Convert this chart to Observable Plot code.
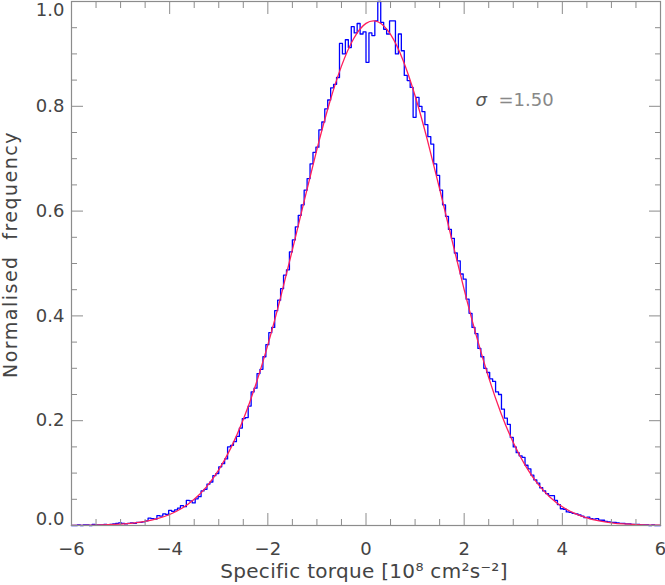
<!DOCTYPE html>
<html><head><meta charset="utf-8">
<script src="https://cdn.jsdelivr.net/npm/d3@7"></script>
<script src="https://cdn.jsdelivr.net/npm/@observablehq/plot@0.6"></script>
<style>
body{margin:0;background:#fff} svg{display:block}
.ytitle text{letter-spacing:1.5px;word-spacing:8px}
.xtitle text{letter-spacing:0.3px}
</style>
</head><body><div id="chart"></div>
<script>
// Histogram: 200 bins of width 0.06 starting at -6 (normalised frequency)
const binStart = -6;
const binWidth = 0.06;
const counts = [
  0, 0, 0.001, 0, 0.001, 0.001, 0, 0.002, 0.001, 0.001,
  0.001, 0.002, 0.001, 0.002, 0.003, 0.004, 0.005, 0.004, 0.003, 0.004,
  0.005, 0.004, 0.006, 0.006, 0.007, 0.009, 0.014, 0.013, 0.012, 0.019,
  0.018, 0.022, 0.021, 0.029, 0.027, 0.030, 0.033, 0.038, 0.036, 0.048,
  0.047, 0.043, 0.051, 0.055, 0.066, 0.069, 0.079, 0.083, 0.095, 0.099,
  0.112, 0.118, 0.127, 0.150, 0.153, 0.160, 0.170, 0.186, 0.204, 0.206,
  0.228, 0.255, 0.262, 0.290, 0.298, 0.322, 0.345, 0.368, 0.378, 0.410,
  0.430, 0.452, 0.478, 0.488, 0.522, 0.545, 0.570, 0.592, 0.612, 0.640,
  0.662, 0.690, 0.712, 0.722, 0.755, 0.770, 0.795, 0.812, 0.835, 0.842,
  0.855, 0.920, 0.900, 0.927, 0.912, 0.952, 0.940, 0.958, 0.938, 0.942,
  0.884, 0.940, 0.935, 0.963, 1.000, 0.960, 0.947, 0.938, 0.963, 0.963,
  0.900, 0.938, 0.906, 0.859, 0.849, 0.836, 0.779, 0.817, 0.800, 0.790,
  0.765, 0.742, 0.728, 0.690, 0.668, 0.640, 0.612, 0.590, 0.565, 0.548,
  0.520, 0.505, 0.480, 0.470, 0.432, 0.405, 0.378, 0.366, 0.338, 0.322,
  0.300, 0.292, 0.280, 0.275, 0.255, 0.250, 0.222, 0.205, 0.193, 0.168,
  0.150, 0.139, 0.133, 0.130, 0.115, 0.108, 0.096, 0.087, 0.081, 0.072,
  0.066, 0.061, 0.057, 0.057, 0.048, 0.040, 0.032, 0.031, 0.026, 0.025,
  0.023, 0.022, 0.020, 0.018, 0.015, 0.016, 0.013, 0.012, 0.013, 0.010,
  0.010, 0.008, 0.007, 0.006, 0.006, 0.005, 0.004, 0.004, 0.003, 0.003,
  0.002, 0.002, 0.002, 0.001, 0.001, 0.001, 0.000, 0.001, 0.000, 0.000
];

// Fitted Gaussian (sigma = 1.50)
const fitX = [-6, -5.75, -5.5, -5.25, -5, -4.75, -4.5, -4.25, -4, -3.75, -3.5, -3.25, -3,
  -2.75, -2.5, -2.25, -2, -1.75, -1.5, -1.25, -1, -0.75, -0.5, -0.25, 0,
  0.25, 0.5, 0.75, 1, 1.25, 1.5, 1.75, 2, 2.25, 2.5, 2.75, 3,
  3.25, 3.5, 3.75, 4, 4.25, 4.5, 4.75, 5, 5.25, 5.5, 5.75, 6];
const fitY = [0.0002, 0.0004, 0.0008, 0.0015, 0.0027, 0.0046, 0.0079, 0.0130, 0.0210, 0.0328, 0.0499, 0.0738, 0.1062,
  0.1486, 0.2022, 0.2677, 0.3447, 0.4317, 0.5259, 0.6230, 0.7178, 0.8044, 0.8767, 0.9294, 0.9582,
  0.9609, 0.9371, 0.8889, 0.8202, 0.7359, 0.6423, 0.5452, 0.4501, 0.3614, 0.2823, 0.2144, 0.1584,
  0.1138, 0.0795, 0.0540, 0.0357, 0.0230, 0.0144, 0.0087, 0.0052, 0.0030, 0.0017, 0.0009, 0.0005];

const xMajor = [-6, -4, -2, 0, 2, 4, 6];
const xMinor = [-5.5, -5, -4.5, -3.5, -3, -2.5, -1.5, -1, -0.5, 0.5, 1, 1.5, 2.5, 3, 3.5, 4.5, 5, 5.5];
const yMajor = [0, 0.2, 0.4, 0.6, 0.8, 1.0];
const yMinor = [0.05, 0.1, 0.15, 0.25, 0.3, 0.35, 0.45, 0.5, 0.55, 0.65, 0.7, 0.75, 0.85, 0.9, 0.95];
const yLabelsMid = [0.2, 0.4, 0.6, 0.8];
const yLabelTop = [1.0];
const yLabelBottom = [0];

const xTitle = "Specific torque [10\u2078 cm\u00B2s\u207B\u00B2]";
const yTitle = "Normalised frequency";
const sigmaSymbol = "\u03C3";
const sigmaText = "=1.50";
const sigmaPos = {x: 2.23, y: 0.811};
const sigmaTextPos = {x: 2.70, y: 0.811};

const steps = counts.map((v, i) => ({x: binStart + i * binWidth, y: v}));
steps.push({x: binStart + counts.length * binWidth, y: counts[counts.length - 1]});
const fit = fitX.map((x, i) => ({x, y: fitY[i]}));

const axisColor = "#8c8c8c";
const labelColor = "#444";
const font = "'DejaVu Sans', sans-serif";
const fmt = d3.format(".1f");
const blank = () => "";

const chart = Plot.plot({
  width: 665,
  height: 585,
  marginLeft: 71,
  marginRight: 5,
  marginTop: 1,
  marginBottom: 60,
  x: {domain: [-6, 6]},
  y: {domain: [0, 1]},
  style: {fontFamily: font, fontSize: "18px", background: "#fff", color: labelColor},
  marks: [
    Plot.line(steps, {x: "x", y: "y", curve: "step-after", stroke: "#0000ff", strokeWidth: 1.3}),
    Plot.line(fit, {x: "x", y: "y", curve: "natural", stroke: "#ff1f5a", strokeWidth: 1.3}),
    Plot.frame({stroke: axisColor, strokeWidth: 1.2}),
    // bottom & top ticks (inward)
    Plot.axisX(xMajor, {anchor: "bottom", tickSize: -12, tickFormat: blank, stroke: axisColor, label: null}),
    Plot.axisX(xMinor, {anchor: "bottom", tickSize: -6, tickFormat: blank, stroke: axisColor, label: null}),
    Plot.axisX(xMajor, {anchor: "top", tickSize: -12, tickFormat: blank, stroke: axisColor, label: null}),
    Plot.axisX(xMinor, {anchor: "top", tickSize: -6, tickFormat: blank, stroke: axisColor, label: null}),
    Plot.axisX(xMajor, {anchor: "bottom", tickSize: 0, tickPadding: 17, fill: labelColor, fontSize: 18, label: null}),
    // left & right ticks (inward)
    Plot.axisY(yMajor, {anchor: "left", tickSize: -12, tickFormat: blank, stroke: axisColor, label: null}),
    Plot.axisY(yMinor, {anchor: "left", tickSize: -6, tickFormat: blank, stroke: axisColor, label: null}),
    Plot.axisY(yMajor, {anchor: "right", tickSize: -12, tickFormat: blank, stroke: axisColor, label: null}),
    Plot.axisY(yMinor, {anchor: "right", tickSize: -6, tickFormat: blank, stroke: axisColor, label: null}),
    Plot.axisY(yLabelsMid, {anchor: "left", tickSize: 0, tickPadding: 7, tickFormat: fmt, fill: labelColor, fontSize: 18, label: null}),
    Plot.axisY(yLabelTop, {anchor: "left", tickSize: 0, tickPadding: 7, dy: 9, tickFormat: fmt, fill: labelColor, fontSize: 18, label: null}),
    Plot.axisY(yLabelBottom, {anchor: "left", tickSize: 0, tickPadding: 7, dy: -6, tickFormat: fmt, fill: labelColor, fontSize: 18, label: null}),
    // titles
    Plot.text([xTitle], {frameAnchor: "bottom", textAnchor: "middle", dx: -2, dy: 38, lineAnchor: "top", fill: labelColor, fontSize: 20, className: "xtitle"}),
    Plot.text([yTitle], {frameAnchor: "left", textAnchor: "middle", dx: -61, dy: -9, rotate: -90, lineAnchor: "middle", fill: labelColor, fontSize: 19, className: "ytitle"}),
    // sigma annotation
    Plot.text([sigmaSymbol], {x: sigmaPos.x, y: sigmaPos.y, textAnchor: "start", fill: "#555", fontSize: 18, fontStyle: "italic"}),
    Plot.text([sigmaText], {x: sigmaTextPos.x, y: sigmaTextPos.y, textAnchor: "start", fill: "#888", fontSize: 18})
  ]
});
document.getElementById("chart").appendChild(chart);
</script>
</body></html>
